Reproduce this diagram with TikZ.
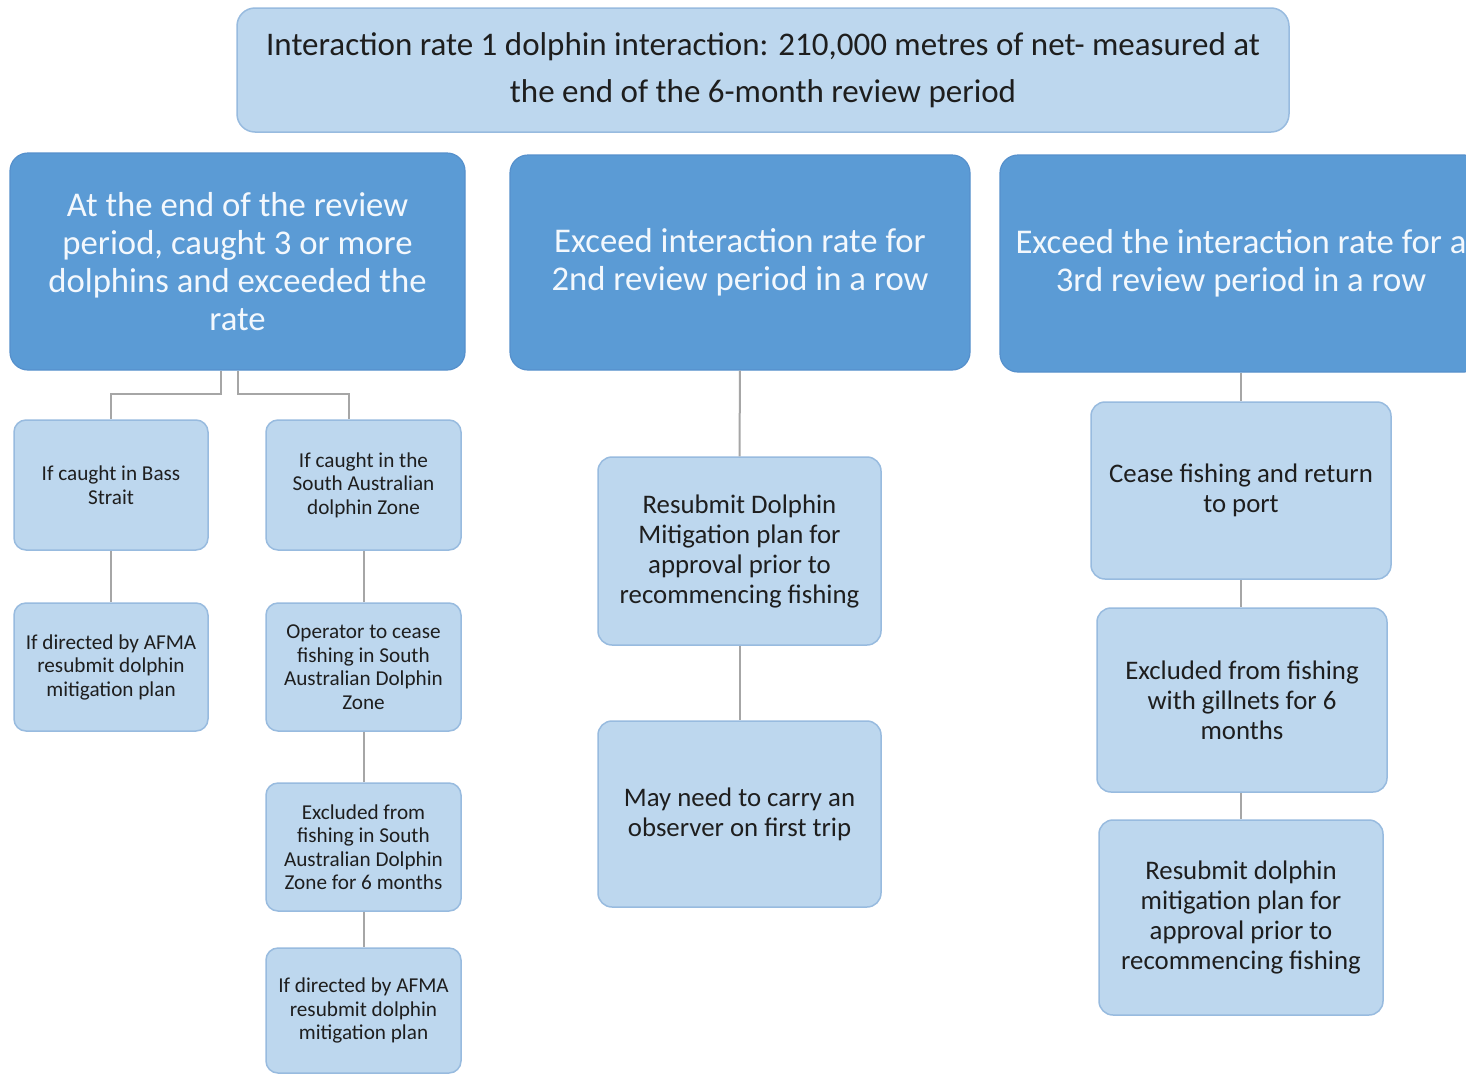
\documentclass[tikz,border=0pt]{standalone}
\usepackage{fontspec}
\setmainfont{Carlito}
\definecolor{darkfill}{HTML}{5B9BD5}
\definecolor{darkline}{HTML}{5590CC}
\definecolor{lightfill}{HTML}{BDD7EE}
\definecolor{lightline}{HTML}{98BBDF}
\definecolor{connline}{HTML}{A6A6A6}
\definecolor{whitetext}{HTML}{F3F8FD}
\definecolor{blacktext}{HTML}{1E1E1E}
\tikzset{
  darkbox/.style={draw=darkline, line width=1.2pt, fill=darkfill, rounded corners=18pt,
    inner sep=0pt, align=center, text=whitetext, font=\fontsize{34.7}{38}\selectfont},
  topbox/.style={draw=lightline, line width=1.5pt, fill=lightfill, rounded corners=18pt,
    inner sep=0pt, align=center, text=blacktext, font=\fontsize{33}{47}\selectfont},
  smallbox/.style={draw=lightline, line width=1.5pt, fill=lightfill, rounded corners=12pt,
    inner sep=0pt, align=center, text=blacktext, font=\fontsize{21.2}{23.5}\selectfont,
    minimum width=194pt},
  midbox/.style={draw=lightline, line width=1.5pt, fill=lightfill, rounded corners=14pt,
    inner sep=0pt, align=center, text=blacktext, font=\fontsize{26.8}{30}\selectfont},
  connector/.style={draw=connline, line width=2pt}
}
\begin{document}
\begin{tikzpicture}[x=1pt,y=-1pt]
\useasboundingbox (0,0) rectangle (1466,1074);
\clip (0,0) rectangle (1466,1074);
\fill[white] (0,0) rectangle (1466,1074);
% top
\node[topbox, minimum width=1052pt, minimum height=124pt] (top) at (763,70)
  {Interaction rate 1 dolphin interaction: 210,000 metres of net- measured at\\the end of the 6-month review period};
% dark boxes
\node[darkbox, minimum width=455pt, minimum height=217pt] (d1) at (237.5,261.5)
  {At the end of the review\\period, caught 3 or more\\dolphins and exceeded the\\rate};
\node[darkbox, minimum width=460pt, minimum height=215pt] (d2) at (740,262.5)
  {Exceed interaction rate for\\2nd review period in a row};
\node[darkbox, minimum width=482pt, minimum height=217pt] (d3) at (1241,263.5)
  {Exceed the interaction rate for a\\3rd review period in a row};
% left column boxes
\node[smallbox, minimum height=130pt] (a) at (111,485) {If caught in Bass\\Strait};
\node[smallbox, minimum height=128pt] (b) at (111,667) {If directed by AFMA\\resubmit dolphin\\mitigation plan};
\node[smallbox, minimum width=195pt, minimum height=130pt] (c) at (363.5,485) {If caught in the\\South Australian\\dolphin Zone};
\node[smallbox, minimum width=195pt, minimum height=128pt] (d) at (363.5,667) {Operator to cease\\fishing in South\\Australian Dolphin\\Zone};
\node[smallbox, minimum width=195pt, minimum height=128pt] (e) at (363.5,847) {Excluded from\\fishing in South\\Australian Dolphin\\Zone for 6 months};
\node[smallbox, minimum width=195pt, minimum height=125pt] (f) at (363.5,1010.5) {If directed by AFMA\\resubmit dolphin\\mitigation plan};
% middle boxes
\node[midbox, minimum width=283pt, minimum height=188pt] (g) at (739.5,551) {Resubmit Dolphin\\Mitigation plan for\\approval prior to\\recommencing fishing};
\node[midbox, minimum width=283pt, minimum height=186pt] (h) at (739.5,814) {May need to carry an\\observer on first trip};
% right boxes
\node[midbox, minimum width=300pt, minimum height=177pt] (i) at (1241,490.5) {Cease fishing and return\\to port};
\node[midbox, minimum width=290pt, minimum height=184pt] (j) at (1242,700) {Excluded from fishing\\with gillnets for 6\\months};
\node[midbox, minimum width=284pt, minimum height=195pt] (k) at (1241,917.5) {Resubmit dolphin\\mitigation plan for\\approval prior to\\recommencing fishing};
% connectors
\draw[connector] ([xshift=-17pt]d1.south) -- ++(0,23) -| (a.north);
\draw[connector] (d1.south) -- ++(0,23) -| ([xshift=-15pt]c.north);
\draw[connector] (a) -- (b);
\draw[connector] (c) -- (d);
\draw[connector] (d) -- (e);
\draw[connector] (e) -- (f);
\draw[connector] (d2) -- (g);
\draw[connector] (g) -- (h);
\draw[connector] (d3.south -| i.north) -- (i);
\draw[connector] (i.south) -- (i.south |- j.north);
\draw[connector] (j.south -| k.north) -- (k);
\end{tikzpicture}
\end{document}
